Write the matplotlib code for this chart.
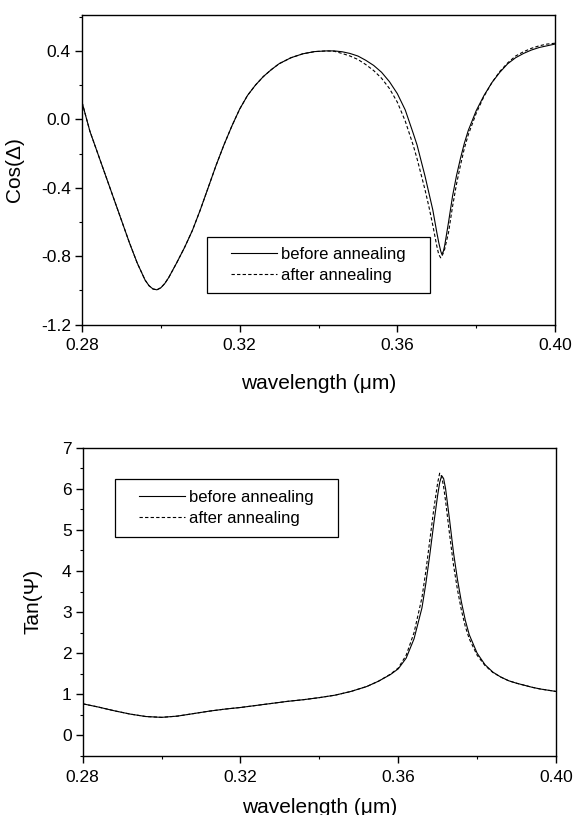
import matplotlib
matplotlib.use("Agg")
import matplotlib.pyplot as plt
from matplotlib.patches import Rectangle
from matplotlib.ticker import MultipleLocator

plt.rcParams["font.family"] = ["Liberation Sans", "DejaVu Sans"]

# Cos(Delta) vs wavelength (um)
cos_wl = [0.280, 0.282, 0.284, 0.286, 0.288, 0.290, 0.292, 0.294, 0.296, 0.297,
          0.298, 0.299, 0.300, 0.301, 0.302, 0.304, 0.306, 0.308, 0.310, 0.312,
          0.314, 0.316, 0.318, 0.320, 0.322, 0.324, 0.326, 0.328, 0.330, 0.333,
          0.336, 0.339, 0.342, 0.344, 0.346, 0.348, 0.350, 0.352, 0.354, 0.356,
          0.358, 0.360, 0.362, 0.364, 0.365, 0.366, 0.367, 0.368, 0.369, 0.370,
          0.3705, 0.371, 0.3713, 0.3717, 0.372, 0.373, 0.374, 0.375, 0.376, 0.377,
          0.378, 0.380, 0.382, 0.384, 0.386, 0.388, 0.390, 0.392, 0.394, 0.396,
          0.398, 0.400]
cos_before = [0.10, -0.07, -0.20, -0.33, -0.46, -0.59, -0.72, -0.84, -0.94, -0.973,
              -0.992, -0.997, -0.985, -0.96, -0.925, -0.84, -0.75, -0.65, -0.53, -0.40,
              -0.27, -0.15, -0.04, 0.06, 0.14, 0.20, 0.25, 0.29, 0.325, 0.36,
              0.383, 0.396, 0.40, 0.40, 0.395, 0.385, 0.37, 0.345, 0.315, 0.275,
              0.22, 0.15, 0.055, -0.08, -0.15, -0.24, -0.33, -0.43, -0.53, -0.66,
              -0.72, -0.77, -0.79, -0.77, -0.74, -0.60, -0.45, -0.33, -0.23, -0.14,
              -0.065, 0.05, 0.14, 0.215, 0.275, 0.325, 0.36, 0.385, 0.405, 0.42,
              0.43, 0.44]
cos_after = [0.10, -0.07, -0.20, -0.33, -0.46, -0.59, -0.72, -0.84, -0.94, -0.973,
             -0.992, -0.997, -0.985, -0.96, -0.925, -0.84, -0.75, -0.65, -0.53, -0.40,
             -0.27, -0.15, -0.04, 0.06, 0.14, 0.20, 0.25, 0.29, 0.325, 0.36,
             0.383, 0.396, 0.40, 0.398, 0.385, 0.37, 0.35, 0.32, 0.285, 0.24,
             0.18, 0.10, -0.01, -0.15, -0.23, -0.32, -0.41, -0.51, -0.62, -0.74,
             -0.79, -0.81, -0.80, -0.78, -0.76, -0.66, -0.51, -0.38, -0.27, -0.17,
             -0.09, 0.035, 0.135, 0.215, 0.28, 0.33, 0.37, 0.395, 0.415, 0.43,
             0.44, 0.445]

# Tan(Psi) vs wavelength (um)
tan_wl = [0.280, 0.284, 0.288, 0.292, 0.296, 0.300, 0.304, 0.308, 0.312, 0.316,
          0.320, 0.324, 0.328, 0.332, 0.336, 0.340, 0.344, 0.348, 0.352, 0.355,
          0.358, 0.360, 0.362, 0.364, 0.366, 0.367, 0.368, 0.369, 0.370, 0.3705,
          0.371, 0.3715, 0.372, 0.373, 0.374, 0.375, 0.376, 0.377, 0.378, 0.380,
          0.382, 0.384, 0.386, 0.388, 0.390, 0.392, 0.394, 0.396, 0.398, 0.400]
tan_before = [0.77, 0.69, 0.60, 0.52, 0.46, 0.44, 0.47, 0.53, 0.59, 0.64,
              0.68, 0.73, 0.78, 0.83, 0.87, 0.92, 0.98, 1.07, 1.19, 1.32,
              1.48, 1.62, 1.88, 2.35, 3.10, 3.70, 4.40, 5.15, 5.85, 6.15,
              6.32, 6.25, 6.00, 5.25, 4.45, 3.80, 3.25, 2.80, 2.45, 2.00,
              1.72, 1.54, 1.42, 1.33, 1.27, 1.22, 1.17, 1.13, 1.10, 1.07]
tan_after = [0.77, 0.69, 0.60, 0.52, 0.46, 0.44, 0.47, 0.53, 0.59, 0.64,
             0.68, 0.73, 0.78, 0.83, 0.87, 0.92, 0.98, 1.07, 1.19, 1.32,
             1.49, 1.64, 1.95, 2.50, 3.35, 4.00, 4.75, 5.50, 6.15, 6.38,
             6.30, 6.05, 5.70, 4.90, 4.15, 3.55, 3.05, 2.65, 2.35, 1.95,
             1.70, 1.53, 1.42, 1.33, 1.27, 1.22, 1.17, 1.13, 1.10, 1.07]

x_ticks = [0.28, 0.32, 0.36, 0.40]
x_ticklabels = ["0.28", "0.32", "0.36", "0.40"]
labels = ["before annealing", "after annealing"]

fig = plt.figure(figsize=(5.74, 8.15), dpi=100)
ax1 = fig.add_axes([0.1429, 0.6018, 0.824, 0.3798])
ax2 = fig.add_axes([0.1441, 0.0724, 0.8246, 0.3783])


def style(ax, xlabel_y):
    for s in ax.spines.values():
        s.set_linewidth(1.0)
    ax.set_xlim(0.28, 0.40)
    ax.set_xticks(x_ticks)
    ax.set_xticklabels(x_ticklabels)
    ax.xaxis.set_minor_locator(MultipleLocator(0.02))
    ax.tick_params(which="major", direction="out", length=5, width=1.0,
                   labelsize=12.5, top=False, right=False)
    ax.tick_params(which="minor", direction="out", length=2.5, width=0.8,
                   top=False, right=False)
    ax.tick_params(axis="x", pad=5)
    ax.tick_params(axis="y", pad=3)
    ax.set_xlabel("wavelength (\u03bcm)", fontsize=15)
    ax.xaxis.set_label_coords(0.5, xlabel_y)


def legend_box(ax, center, frame):
    leg = ax.legend(labels, loc="center", bbox_to_anchor=center,
                    frameon=False, fontsize=12, handlelength=2.75,
                    handletextpad=0.25, labelspacing=0.35, borderpad=0)
    x0, y0, x1, y1 = frame
    ax.add_patch(Rectangle((x0, y0), x1 - x0, y1 - y0, transform=ax.transAxes,
                           facecolor="white", edgecolor="black", lw=0.9,
                           zorder=3))
    return leg


ax1.plot(cos_wl, cos_before, color="black", lw=0.8)
ax1.plot(cos_wl, cos_after, color="black", lw=0.8, ls=(0, (3, 2)))
style(ax1, -0.16)
ax1.set_ylim(-1.2, 0.61)
ax1.set_yticks([-1.2, -0.8, -0.4, 0.0, 0.4])
ax1.set_yticklabels(["-1.2", "-0.8", "-0.4", "0.0", "0.4"])
ax1.yaxis.set_minor_locator(MultipleLocator(0.2))
ax1.set_ylabel("Cos(\u0394)", fontsize=15)
ax1.yaxis.set_label_coords(-0.123, 0.5)
legend_box(ax1, (0.5005, 0.1925), (0.265, 0.102, 0.736, 0.283))

ax2.plot(tan_wl, tan_before, color="black", lw=0.8)
ax2.plot(tan_wl, tan_after, color="black", lw=0.8, ls=(0, (3, 2)))
style(ax2, -0.135)
ax2.set_ylim(-0.5, 7)
ax2.set_yticks([0, 1, 2, 3, 4, 5, 6, 7])
ax2.yaxis.set_minor_locator(MultipleLocator(0.5))
ax2.set_ylabel("Tan(\u03a8)", fontsize=15)
ax2.yaxis.set_label_coords(-0.085, 0.5)
legend_box(ax2, (0.303, 0.804), (0.068, 0.710, 0.5386, 0.898))

fig.savefig("out.png", dpi=100)
